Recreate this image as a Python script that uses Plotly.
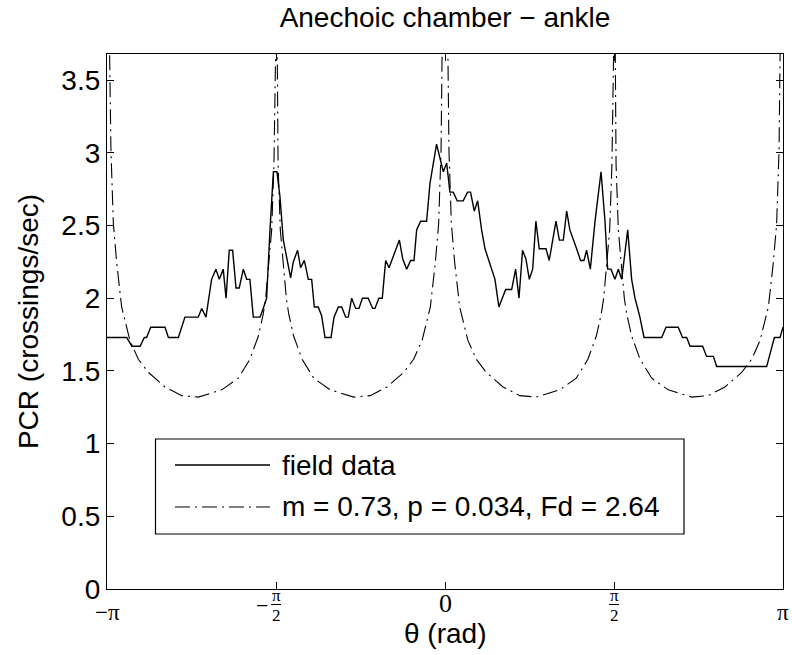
import numpy as np
import plotly.graph_objects as go

TITLE = "Anechoic chamber \u2212 ankle"
X_LABEL = "\u03b8 (rad)"
Y_LABEL = "PCR (crossings/sec)"
LEGEND_LABELS = ["field data", "m = 0.73, p = 0.034, Fd = 2.64"]
Y_TICKS = [0, 0.5, 1, 1.5, 2, 2.5, 3, 3.5]
X_TICK_DEG = [-180, -90, 0, 90, 180]

# field data (angle in degrees, PCR in crossings/sec)
field_deg = [
    -180, -169.5, -166.8, -162.4, -160.1, -158.9, -156.7, -149.1, -147.3, -142.0,
    -138.5, -131.4, -129.6, -127.3, -124.3, -122.0, -120.2, -118.1, -116.6, -114.9,
    -113.1, -111.3, -109.6, -107.4, -105.6, -103.9, -102.1, -98.5, -96.8, -95.0,
    -93.2, -91.4, -89.5, -87.9, -86.1, -84.3, -82.2, -80.8, -78.5, -76.9,
    -74.9, -72.8, -71.0, -69.6, -67.5, -65.7, -63.9, -60.7, -59.1, -56.8,
    -55.0, -52.9, -51.5, -49.7, -47.6, -45.8, -44.0, -40.9, -38.5, -37.3,
    -35.2, -33.4, -31.6, -29.8, -24.3, -22.5, -20.4, -18.3, -16.5, -15.1,
    -13.0, -9.8, -8.0, -4.5, -2.3, -0.9, 0.9, 2.6, 4.4, 6.5,
    9.7, 12.0, 13.6, 15.6, 17.4, 19.5, 21.3, 26.6, 28.7, 32.3,
    35.5, 37.6, 39.4, 41.3, 43.1, 44.9, 46.7, 48.4, 50.2, 53.8,
    55.5, 59.1, 60.9, 63.0, 64.8, 66.5, 70.1, 72.2, 74.0, 75.4,
    77.4, 79.9, 83.1, 85.2, 86.6, 88.4, 90.5, 92.3, 94.1, 97.3,
    99.4, 101.2, 103.8, 106.0, 115.4, 117.7, 124.2, 126.5, 128.7, 130.5,
    137.2, 139.3, 142.9, 144.7, 171.3, 173.9, 175.4, 178.4, 180,
]
field_pcr = [
    1.73, 1.73, 1.67, 1.67, 1.73, 1.73, 1.80, 1.80, 1.73, 1.73,
    1.87, 1.87, 1.93, 1.87, 2.13, 2.20, 2.13, 2.20, 2.00, 2.33,
    2.33, 2.07, 2.07, 2.20, 2.13, 2.13, 1.87, 1.87, 1.93, 2.00,
    2.47, 2.87, 2.87, 2.70, 2.40, 2.28, 2.14, 2.25, 2.33, 2.21,
    2.26, 2.13, 2.13, 1.94, 1.94, 1.88, 1.73, 1.73, 1.87, 1.94,
    1.94, 1.87, 1.87, 2.00, 1.93, 1.93, 2.00, 2.00, 1.93, 1.93,
    2.00, 2.00, 2.26, 2.21, 2.40, 2.27, 2.20, 2.26, 2.26, 2.47,
    2.53, 2.53, 2.79, 3.06, 2.94, 2.87, 2.93, 2.73, 2.73, 2.67,
    2.67, 2.73, 2.73, 2.60, 2.67, 2.47, 2.34, 2.13, 1.94, 2.06,
    2.06, 2.20, 2.00, 2.33, 2.27, 2.13, 2.20, 2.53, 2.34, 2.34,
    2.26, 2.53, 2.40, 2.40, 2.60, 2.47, 2.34, 2.26, 2.26, 2.33,
    2.20, 2.53, 2.87, 2.53, 2.20, 2.20, 2.13, 2.20, 2.13, 2.47,
    2.13, 2.00, 1.87, 1.73, 1.73, 1.80, 1.80, 1.73, 1.73, 1.67,
    1.67, 1.60, 1.60, 1.53, 1.53, 1.67, 1.73, 1.73, 1.80,
]

# model curve (m = 0.73, p = 0.034, Fd = 2.64)
model_deg = [
    -179.6, -178.4, -177.9, -176.6, -174.8, -172.2, -167.8, -163.3, -158.0, -149.1,
    -140.2, -131.4, -118.9, -110.1, -103.9, -99.4, -96.8, -95.5, -92.3, -91.1, -90.4,
    -89.6, -88.9, -87.7, -84.5, -83.2, -80.6, -76.1, -69.9, -61.1, -48.6,
    -39.8, -30.9, -22.0, -16.7, -12.2, -7.8, -5.2, -3.4, -2.1, -1.6, -0.4,
    0.4, 1.6, 2.1, 3.4, 5.2, 7.8, 12.2, 16.7, 22.0, 30.9,
    39.8, 48.6, 61.1, 69.9, 76.1, 80.6, 83.2, 84.5, 87.7, 88.9, 89.6,
    90.4, 91.1, 92.3, 95.5, 96.8, 99.4, 103.9, 110.1, 118.9, 131.4,
    140.2, 149.1, 158.0, 163.3, 167.8, 172.2, 174.8, 176.6, 177.9, 178.4, 179.6,
]
model_pcr = [
    4.60, 3.63, 3.02, 2.51, 2.24, 1.94, 1.71, 1.58, 1.49, 1.39,
    1.33, 1.32, 1.37, 1.45, 1.58, 1.74, 1.89, 2.00, 2.47, 2.92, 4.20,
    4.20, 2.92, 2.47, 2.00, 1.89, 1.74, 1.58, 1.45, 1.37, 1.32,
    1.33, 1.39, 1.49, 1.58, 1.71, 1.94, 2.24, 2.51, 3.02, 3.63, 4.60,
    4.60, 3.63, 3.02, 2.51, 2.24, 1.94, 1.71, 1.58, 1.49, 1.39,
    1.33, 1.32, 1.37, 1.45, 1.58, 1.74, 1.89, 2.00, 2.47, 2.92, 4.20,
    4.20, 2.92, 2.47, 2.00, 1.89, 1.74, 1.58, 1.45, 1.37, 1.32,
    1.33, 1.39, 1.49, 1.58, 1.71, 1.94, 2.24, 2.51, 3.02, 3.63, 4.60,
]

W, H = 792, 655
ML, MR, MT, MB = 107, 9, 54, 66
PW, PH = W - ML - MR, H - MT - MB
SANS = "Liberation Sans, Arial, Helvetica, sans-serif"
SERIF = "Liberation Serif, Times New Roman, serif"
DASHDOT = "15px,5px,2px,5px"


def px_x(p):
    return (p - ML) / PW


def px_y(p):
    return (H - MB - p) / PH


fig = go.Figure()
fig.add_trace(go.Scatter(
    x=np.deg2rad(field_deg), y=field_pcr, mode="lines", name=LEGEND_LABELS[0],
    line=dict(color="black", width=1.4), showlegend=False))
fig.add_trace(go.Scatter(
    x=np.deg2rad(model_deg), y=model_pcr, mode="lines", name=LEGEND_LABELS[1],
    line=dict(color="black", width=1.1, dash=DASHDOT), showlegend=False))

axis_common = dict(showline=True, linecolor="black", linewidth=1.2, mirror="ticks",
                   ticks="inside", ticklen=7, tickwidth=1, tickcolor="black",
                   showgrid=False, zeroline=False)

fig.update_xaxes(range=[-np.pi, np.pi], tickvals=np.deg2rad(X_TICK_DEG),
                 showticklabels=False, **axis_common)
fig.update_yaxes(range=[0, 3.68], tickvals=Y_TICKS,
                 ticktext=[f"{v:g}" for v in Y_TICKS],
                 tickfont=dict(family=SANS, size=28, color="black"),
                 title=dict(text=Y_LABEL, font=dict(family=SANS, size=28, color="black"),
                            standoff=14),
                 **axis_common)

ann = []
# x tick labels
ann.append(dict(x=np.deg2rad(X_TICK_DEG[0]), y=px_y(612), text="\u2212\u03c0",
                font=dict(family=SERIF, size=23, color="black")))
ann.append(dict(x=np.deg2rad(X_TICK_DEG[4]), y=px_y(612), text="\u03c0",
                font=dict(family=SERIF, size=23, color="black")))
ann.append(dict(x=np.deg2rad(X_TICK_DEG[2]), y=px_y(604), text="0",
                font=dict(family=SERIF, size=26, color="black")))
for d, neg in [(X_TICK_DEG[1], True), (X_TICK_DEG[3], False)]:
    ann.append(dict(x=np.deg2rad(d), y=px_y(595), text="\u03c0",
                    font=dict(family=SERIF, size=17, color="black")))
    ann.append(dict(x=np.deg2rad(d), y=px_y(615), text="2",
                    font=dict(family=SERIF, size=17, color="black")))
    if neg:
        ann.append(dict(x=np.deg2rad(d), xshift=-14, y=px_y(605), text="\u2212",
                        font=dict(family=SERIF, size=22, color="black")))
    fig.add_shape(type="line", xref="x", yref="paper", xsizemode="pixel",
                  xanchor=np.deg2rad(d), x0=-5, x1=5, y0=px_y(604.5), y1=px_y(604.5),
                  line=dict(color="black", width=1))

# x axis label
ann.append(dict(x=0, y=px_y(633), text=X_LABEL,
                font=dict(family=SANS, size=28, color="black")))

# legend
fig.add_shape(type="rect", xref="paper", yref="paper",
              x0=px_x(155.5), x1=px_x(684), y0=px_y(534), y1=px_y(439),
              line=dict(color="black", width=1.2), fillcolor="white", layer="above")
fig.add_shape(type="line", xref="paper", yref="paper",
              x0=px_x(175), x1=px_x(270), y0=px_y(465), y1=px_y(465),
              line=dict(color="black", width=1.4), layer="above")
fig.add_shape(type="line", xref="paper", yref="paper",
              x0=px_x(175), x1=px_x(270), y0=px_y(507), y1=px_y(507),
              line=dict(color="black", width=1.1, dash=DASHDOT), layer="above")
ann.append(dict(x=px_x(281), y=px_y(465), xref="paper", text=LEGEND_LABELS[0],
                xanchor="left", font=dict(family=SANS, size=28, color="black")))
ann.append(dict(x=px_x(281), y=px_y(507), xref="paper", text=LEGEND_LABELS[1],
                xanchor="left", font=dict(family=SANS, size=28, color="black")))

for a in ann:
    a.setdefault("xref", "x")
    a.setdefault("yref", "paper")
    a.setdefault("xanchor", "center")
    a["yanchor"] = "middle"
    a["showarrow"] = False
    a["borderpad"] = 0
    fig.add_annotation(**a)

fig.update_layout(
    width=W, height=H,
    margin=dict(l=ML, r=MR, t=MT, b=MB, autoexpand=False),
    paper_bgcolor="white", plot_bgcolor="white",
    title=dict(text=TITLE, x=0.5, xref="paper", xanchor="center",
               y=1 - 17 / H, yref="container", yanchor="middle",
               font=dict(family=SANS, size=28, color="black")),
    showlegend=False,
)

fig.write_html("out.html")
